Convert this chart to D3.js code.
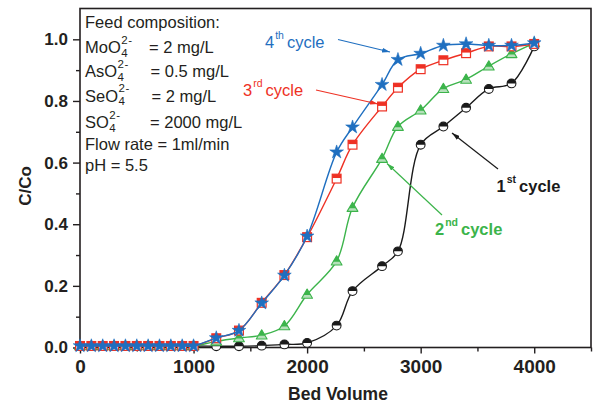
<!DOCTYPE html>
<html><head><meta charset="utf-8">
<script src="https://cdn.jsdelivr.net/npm/d3@7"></script>
<style>
html,body{margin:0;padding:0;background:#fff;}
svg{display:block;font-family:"Liberation Sans",Arial,sans-serif;}
</style></head>
<body><svg id="chart" width="595" height="408"></svg>
<script>
// ---- data ----
const bedVolume = [0,100,200,300,400,500,600,700,800,900,1000,1200,1400,1600,1800,2000,2260,2400,2660,2800,3000,3200,3400,3600,3800,4000];
const cycle1 = [0.005,0.005,0.005,0.005,0.005,0.005,0.005,0.005,0.005,0.005,0.005,0.004,0.004,0.006,0.010,0.015,0.071,0.183,0.264,0.312,0.658,0.717,0.778,0.839,0.857,0.977];
const cycle2 = [0.005,0.005,0.005,0.005,0.005,0.005,0.005,0.005,0.005,0.005,0.005,0.020,0.031,0.040,0.070,0.172,0.280,0.454,0.613,0.717,0.770,0.840,0.870,0.913,0.953,0.988];
const cycle3 = [0.005,0.005,0.005,0.005,0.005,0.005,0.005,0.005,0.005,0.005,0.005,0.030,0.055,0.145,0.235,0.358,0.548,0.658,0.782,0.843,0.903,0.932,0.955,0.977,0.977,0.985];
const cycle4 = [0.005,0.005,0.005,0.005,0.005,0.005,0.005,0.005,0.005,0.005,0.005,0.031,0.055,0.144,0.234,0.361,0.634,0.715,0.853,0.934,0.954,0.980,0.985,0.980,0.980,0.988];
const xMajorTicks = [0,1000,2000,3000,4000];
const xMinorTicks = [500,1500,2500,3500,4500];
const yMajorTicks = [0.0,0.2,0.4,0.6,0.8,1.0];
const yMinorTicks = [0.1,0.3,0.5,0.7,0.9];
const xTitle = "Bed Volume";
const yTitle = "C/Co";

const svg = d3.select("#chart");
const X0 = 80, X1 = 591, Y0 = 347.5, Y1 = 8.5;
const x = d3.scaleLinear().domain([0,4500]).range([X0,X1]);
const y = d3.scaleLinear().domain([0,1.1]).range([Y0,Y1]);
const ink = "#231f20";
const colBlack = "#1a1a1a", colGreen = "#3cb44b", colRed = "#ee3124", colBlue = "#1f6fc0";

// frame
svg.append("rect").attr("x",X0).attr("y",Y1).attr("width",X1-X0).attr("height",Y0-Y1)
  .attr("fill","none").attr("stroke",ink).attr("stroke-width",1.6);

// axes
function styleAxis(g){ g.select(".domain").remove(); g.selectAll("line").attr("stroke",ink).attr("stroke-width",1.4); }
svg.append("g").attr("transform",`translate(0,${Y0})`)
  .call(d3.axisBottom(x).tickValues(xMajorTicks).tickSize(6).tickPadding(6).tickFormat(d3.format("d")))
  .call(styleAxis)
  .call(g=>g.selectAll("text").attr("font-size",19).attr("font-weight","bold").attr("fill",ink).attr("font-family","Liberation Sans, Arial, sans-serif"));
svg.append("g").attr("transform",`translate(0,${Y0})`)
  .call(d3.axisBottom(x).tickValues(xMinorTicks).tickSize(4).tickFormat(""))
  .call(styleAxis);
svg.append("g").attr("transform",`translate(${X0},0)`)
  .call(d3.axisLeft(y).tickValues(yMajorTicks).tickSize(7).tickPadding(5).tickFormat(d3.format(".1f")))
  .call(styleAxis)
  .call(g=>g.selectAll("text").attr("font-size",17).attr("font-weight","bold").attr("fill",ink).attr("font-family","Liberation Sans, Arial, sans-serif"));
svg.append("g").attr("transform",`translate(${X0},0)`)
  .call(d3.axisLeft(y).tickValues(yMinorTicks).tickSize(4).tickFormat(""))
  .call(styleAxis);

// titles
svg.append("text").attr("x",338).attr("y",400).attr("text-anchor","middle")
  .attr("font-size",17.5).attr("font-weight","bold").attr("fill",ink).text(xTitle);
svg.append("text").attr("transform","translate(31,186) rotate(-90)").attr("text-anchor","middle")
  .attr("font-size",17).attr("font-weight","bold").attr("fill",ink).text(yTitle);

// series
const series = [
  {vals:cycle1, color:colBlack, marker:"circle", light:"#ffffff"},
  {vals:cycle2, color:colGreen, marker:"triangle", light:"#b5e0ba"},
  {vals:cycle3, color:colRed, marker:"square", light:"#ffffff"},
  {vals:cycle4, color:colBlue, marker:"star", light:null}
];
const line = d3.line().x(d=>x(d[0])).y(d=>y(d[1])).curve(d3.curveCatmullRom.alpha(0.5));
series.forEach(s=>{
  const pts = bedVolume.map((b,i)=>[b,s.vals[i]]);
  const g = svg.append("g");
  g.append("path").attr("d",line(pts)).attr("fill","none").attr("stroke",s.color).attr("stroke-width",1.4);
  pts.forEach(p=>{
    const cx = x(p[0]), cy = y(p[1]);
    if(s.marker==="circle"){
      const r=4.4;
      g.append("circle").attr("cx",cx).attr("cy",cy).attr("r",r).attr("fill","#fff");
      g.append("path").attr("d",`M${cx-r},${cy} A${r},${r} 0 0 1 ${cx+r},${cy} Z`).attr("fill",s.color);
      g.append("circle").attr("cx",cx).attr("cy",cy).attr("r",r).attr("fill","none").attr("stroke",s.color).attr("stroke-width",1.1);
    } else if(s.marker==="square"){
      const h=4.4;
      g.append("rect").attr("x",cx-h).attr("y",cy-h).attr("width",2*h).attr("height",2*h).attr("fill",s.light);
      g.append("rect").attr("x",cx-h).attr("y",cy-h).attr("width",2*h).attr("height",h-0.6).attr("fill",s.color);
      g.append("rect").attr("x",cx-h).attr("y",cy-h).attr("width",2*h).attr("height",2*h).attr("fill","none").attr("stroke",s.color).attr("stroke-width",1.2);
    } else if(s.marker==="triangle"){
      const w=5.4, top=cy-5.4, bot=cy+3.8, mid=cy+0.6;
      const midHalf = w*(mid-top)/(bot-top);
      g.append("path").attr("d",`M${cx},${top} L${cx+w},${bot} L${cx-w},${bot} Z`).attr("fill",s.light);
      g.append("path").attr("d",`M${cx},${top} L${cx+midHalf},${mid} L${cx-midHalf},${mid} Z`).attr("fill",s.color);
      g.append("path").attr("d",`M${cx},${top} L${cx+w},${bot} L${cx-w},${bot} Z`).attr("fill","none").attr("stroke",s.color).attr("stroke-width",1.1).attr("stroke-linejoin","round");
    } else {
      g.append("path").attr("d",d3.symbol(d3.symbolStar,58)()).attr("transform",`translate(${cx},${cy})`).attr("fill",s.color).attr("stroke",s.color).attr("stroke-width",0.6);
    }
  });
});

// legend / conditions text
const lg = svg.append("g").attr("fill",ink).attr("font-size",16.5);
lg.append("text").attr("x",85).attr("y",28).text("Feed composition:");
const ions = [
  {base:"MoO", y:53, eqx:149, rest:"= 2 mg/L"},
  {base:"AsO", y:77, eqx:150.5, rest:"= 0.5 mg/L"},
  {base:"SeO", y:101.5, eqx:151.5, rest:"= 2 mg/L"},
  {base:"SO", y:128, eqx:150, rest:"= 2000 mg/L"}
];
ions.forEach(o=>{
  const t = lg.append("text").attr("x",85).attr("y",o.y).text(o.base);
  const w = t.node().getComputedTextLength();
  lg.append("text").attr("x",85+w+0.5).attr("y",o.y+3.5).attr("font-size",11.5).text("4");
  lg.append("text").attr("x",85+w+0.5).attr("y",o.y-9.5).attr("font-size",11.5).attr("letter-spacing",0.5).text("2-");
  lg.append("text").attr("x",o.eqx).attr("y",o.y).text(o.rest);
});
lg.append("text").attr("x",85).attr("y",150).text("Flow rate = 1ml/min");
lg.append("text").attr("x",85).attr("y",171).text("pH = 5.5");

// annotations
const defs = svg.append("defs");
function arrowMarker(id,color){
  defs.append("marker").attr("id",id).attr("viewBox","0 0 10 6").attr("refX",10).attr("refY",3)
    .attr("markerWidth",8).attr("markerHeight",5).attr("markerUnits","userSpaceOnUse").attr("orient","auto")
    .append("path").attr("d","M0,0 L10,3 L0,6 Z").attr("fill",color);
}
const annots = [
  {id:"a4", color:colBlue, num:"4", sup:"th", tx:265, ty:47.5, bold:false, x1:338, y1:39.5, x2:390, y2:52},
  {id:"a3", color:colRed, num:"3", sup:"rd", tx:243, ty:96, bold:false, x1:316, y1:90, x2:378, y2:104},
  {id:"a1", color:colBlack, num:"1", sup:"st", tx:496.5, ty:192, bold:true, x1:498, y1:169, x2:452, y2:133},
  {id:"a2", color:colGreen, num:"2", sup:"nd", tx:435, ty:235, bold:true, x1:442, y1:215, x2:387, y2:163.5}
];
annots.forEach(a=>{
  arrowMarker(a.id,a.color);
  svg.append("line").attr("x1",a.x1).attr("y1",a.y1).attr("x2",a.x2).attr("y2",a.y2)
    .attr("stroke",a.color).attr("stroke-width",1.2).attr("marker-end",`url(#${a.id})`);
  const t = svg.append("text").attr("x",a.tx).attr("y",a.ty).attr("fill",a.color)
    .attr("font-size",16.5).attr("font-weight",a.bold?"bold":"normal");
  t.append("tspan").text(a.num);
  t.append("tspan").attr("dy",-9).attr("dx",1).attr("font-size",10.5).text(a.sup);
  t.append("tspan").attr("dy",9).attr("dx",3).text("cycle");
});
</script></body></html>
